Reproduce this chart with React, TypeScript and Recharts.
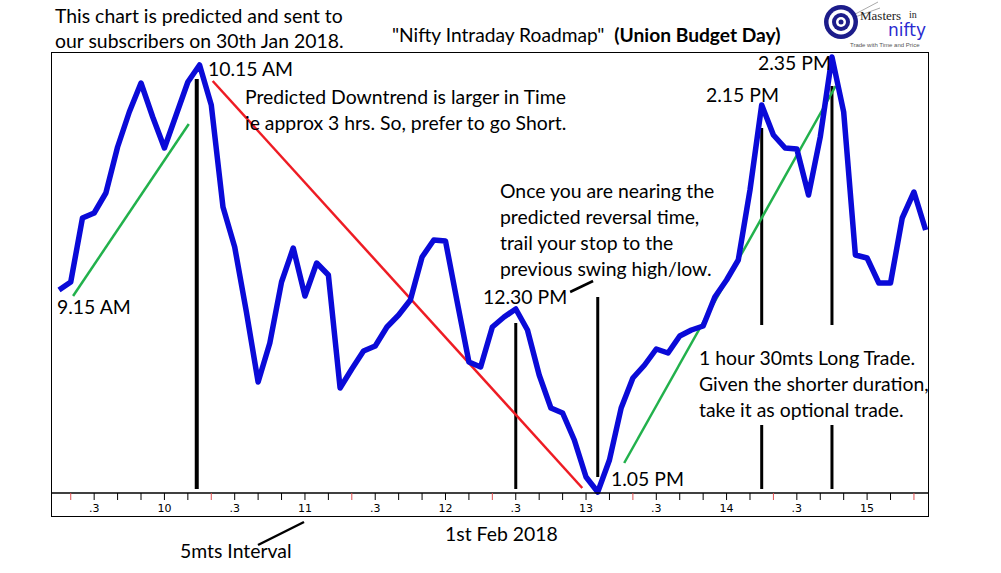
import React from 'react';
import { LineChart, Line, XAxis, YAxis, ReferenceLine } from 'recharts';

// 5-minute Nifty roadmap, 9:15 to 15:25 (minutes from midnight)
const START_MIN = 555;
const STEP_MIN = 5;

// relative price level of each 5 min bar
const PRICE = [
  203, 211, 275, 280, 300, 346, 381, 410, 376, 345, 378, 411, 428, 388, 286,
  246, 181, 111, 150, 211, 245, 197, 230, 218, 105, 124, 142, 147, 166, 178,
  193, 236, 253, 252, 191, 131, 126, 166, 176, 184, 163, 118, 85, 80, 53,
  16, 1, 33, 85, 115, 128, 144, 140, 157, 163, 167, 196, 213, 233, 303,
  388, 358, 345, 344, 298, 356, 436, 381, 238, 235, 210, 210, 275, 301, 263,
];

const TICK_MINS = [
  560, 570, 580, 590, 600, 610, 620, 630, 640, 650, 660, 670, 680, 690, 700,
  710, 720, 730, 740, 750, 760, 770, 780, 790, 800, 810, 820, 830, 840, 850,
  860, 870, 880, 890, 900, 910, 920,
];

// vertical timing lines: time, [from, to] price segments
const TIMING_LINES = [
  { t: 613.8, parts: [[4, 414]], w: 4 },
  { t: 750, parts: [[4, 170]], w: 3 },
  { t: 785, parts: [[16, 196]], w: 3 },
  { t: 855, parts: [[4, 68], [168, 365]], w: 3 },
  { t: 885, parts: [[4, 68], [168, 407]], w: 3 },
];

const RED_TREND = [{ t: 620.6, v: 412 }, { t: 778.4, v: 5 }];
const GREEN_TRENDS = [
  [{ t: 561, v: 197 }, { t: 610.4, v: 369 }],
  [{ t: 796.3, v: 30 }, { t: 886.6, v: 407 }],
];
const POINTER_1230 = [{ t: 773.2, v: 201 }, { t: 783, v: 212 }];

const data = PRICE.map((p, i) => ({ t: START_MIN + i * STEP_MIN, p }));

const FONT = 'Lato, "Open Sans", sans-serif';

function AxisTick(props: any) {
  const { x, y, payload } = props;
  const m = payload.value as number;
  const mm = m % 60;
  const label = mm === 0 ? String(m / 60) : mm === 30 ? '.3' : '';
  const red = mm === 20;
  return (
    <g>
      <line x1={x} x2={x} y1={y - 2} y2={y + 5} stroke={red ? '#e05050' : '#000'} strokeWidth={1} />
      <text x={x} y={y + 17} textAnchor="middle" fontSize={11} fontFamily="Tahoma, 'DejaVu Sans', sans-serif" fill="#000">
        {label}
      </text>
    </g>
  );
}

const txt = (left: number, top: number, size = 19.4): React.CSSProperties => ({
  position: 'absolute',
  left,
  top,
  fontSize: size,
  fontFamily: FONT,
  color: '#000',
  whiteSpace: 'nowrap',
  lineHeight: 1,
});

function Logo() {
  return (
    <svg style={{ position: 'absolute', left: 820, top: 0 }} width={115} height={50}>
      <line x1={24} y1={20} x2={58} y2={2} stroke="#aaa" strokeWidth={1} />
      <line x1={24} y1={21} x2={60} y2={8} stroke="#aaa" strokeWidth={1} />
      <circle cx={21} cy={22} r={17} fill="#1c1c8a" />
      <circle cx={21} cy={22} r={12.5} fill="#fff" />
      <circle cx={21} cy={22} r={9} fill="#1c1c8a" />
      <circle cx={21} cy={22} r={5} fill="#fff" />
      <circle cx={21} cy={22} r={2.5} fill="#1c1c8a" />
      <text x={40} y={20} fontSize={13} fontFamily="'Liberation Serif', serif" fill="#222">Masters</text>
      <text x={89} y={18} fontSize={10} fontFamily="'Liberation Serif', serif" fill="#222">in</text>
      <text x={106} y={36} textAnchor="end" fontSize={17} fontFamily="'DejaVu Sans', sans-serif" fill="#2a2ad0">nifty</text>
      <text x={30} y={47} fontSize={6} fontFamily="'Liberation Sans', sans-serif" fill="#555">Trade with Time and Price</text>
    </svg>
  );
}

export default function App() {
  return (
    <div style={{ position: 'absolute', left: 0, top: 0, width: 1001, height: 573, background: '#fff', overflow: 'hidden' }}>
      <LineChart width={1001} height={573} data={data} margin={{ top: 53, right: 73, bottom: 57, left: 52 }}>
        <XAxis
          dataKey="t"
          type="number"
          domain={[552, 926]}
          ticks={TICK_MINS}
          tick={<AxisTick />}
          tickLine={false}
          tickSize={0}
          axisLine={{ stroke: '#000', strokeWidth: 1.5 }}
          height={23}
          interval={0}
        />
        <YAxis hide width={0} domain={[0, 440]} />
        {TIMING_LINES.flatMap((l, i) =>
          l.parts.map((seg, j) => (
            <ReferenceLine
              key={`tl-${i}-${j}`}
              segment={[{ x: l.t, y: seg[0] }, { x: l.t, y: seg[1] }]}
              stroke="#000"
              strokeWidth={l.w}
            />
          ))
        )}
        <ReferenceLine
          segment={[{ x: RED_TREND[0].t, y: RED_TREND[0].v }, { x: RED_TREND[1].t, y: RED_TREND[1].v }]}
          stroke="#ee1c24"
          strokeWidth={2.5}
        />
        {GREEN_TRENDS.map((g, i) => (
          <ReferenceLine
            key={`g-${i}`}
            segment={[{ x: g[0].t, y: g[0].v }, { x: g[1].t, y: g[1].v }]}
            stroke="#22b14c"
            strokeWidth={2.5}
          />
        ))}
        <ReferenceLine
          segment={[{ x: POINTER_1230[0].t, y: POINTER_1230[0].v }, { x: POINTER_1230[1].t, y: POINTER_1230[1].v }]}
          stroke="#000"
          strokeWidth={2.5}
        />
        <Line
          type="linear"
          dataKey="p"
          stroke="#0a0ad8"
          strokeWidth={5.5}
          dot={false}
          isAnimationActive={false}
          strokeLinejoin="round"
        />
      </LineChart>

      {/* frame */}
      <div style={{ position: 'absolute', left: 51, top: 52, width: 876, height: 463, border: '1.5px solid #000', pointerEvents: 'none' }} />

      <svg style={{ position: 'absolute', left: 0, top: 0 }} width={1001} height={573}>
        <line x1={258} y1={545} x2={304} y2={522} stroke="#000" strokeWidth={2.5} />
      </svg>

      <div style={txt(55, 6)}>This chart is predicted and sent to</div>
      <div style={txt(55, 31)}>our subscribers on 30th Jan 2018.</div>
      <div style={txt(392, 25, 19.2)}>
        "Nifty Intraday Roadmap"&nbsp; <b>(Union Budget Day)</b>
      </div>
      <Logo />

      <div style={txt(208, 59)}>10.15 AM</div>
      <div style={txt(245, 87)}>Predicted Downtrend is larger in Time</div>
      <div style={txt(245, 113)}>ie approx 3 hrs. So, prefer to go Short.</div>
      <div style={txt(57, 297)}>9.15 AM</div>

      <div style={txt(500, 181)}>Once you are nearing the</div>
      <div style={txt(500, 207)}>predicted reversal time,</div>
      <div style={txt(500, 233)}>trail your stop to the</div>
      <div style={txt(500, 259)}>previous swing high/low.</div>
      <div style={txt(483, 287)}>12.30 PM</div>
      <div style={txt(611, 469)}>1.05 PM</div>

      <div style={txt(699, 348)}>1 hour 30mts Long Trade.</div>
      <div style={txt(699, 374)}>Given the shorter duration,</div>
      <div style={txt(699, 400)}>take it as optional trade.</div>
      <div style={txt(706, 85)}>2.15 PM</div>
      <div style={txt(758, 53)}>2.35 PM</div>

      <div style={txt(445, 524)}>1st Feb 2018</div>
      <div style={txt(180, 541)}>5mts Interval</div>
    </div>
  );
}
